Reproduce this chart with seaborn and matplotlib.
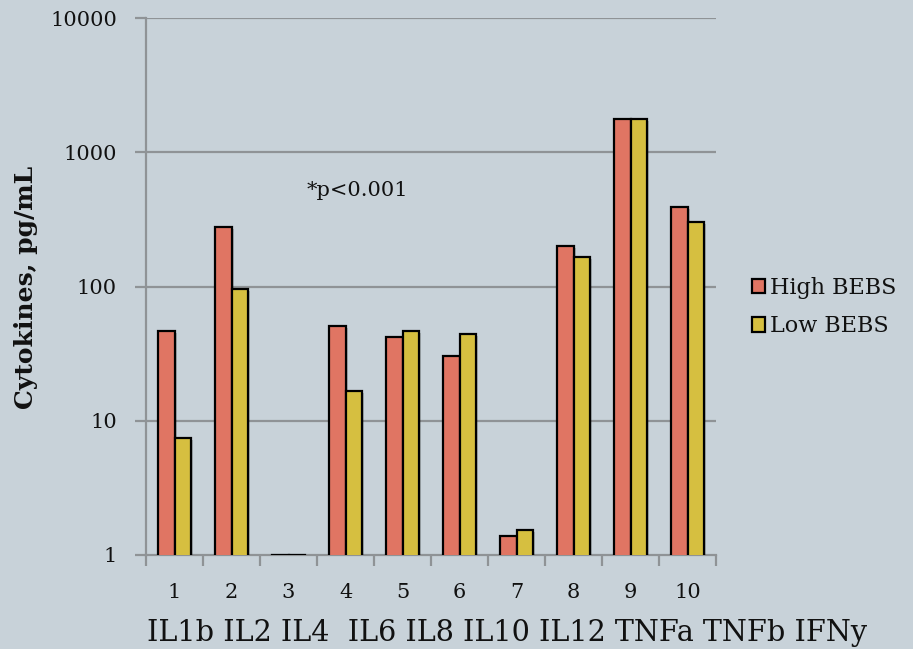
import matplotlib
matplotlib.use("Agg")
import matplotlib.pyplot as plt
import matplotlib.patheffects as pe
from matplotlib.patches import Patch
from matplotlib.ticker import FixedLocator, NullFormatter
import numpy as np
import pandas as pd
import seaborn as sns

# Cytokine panel, mean concentrations (pg/mL)
categories = ["1", "2", "3", "4", "5", "6", "7", "8", "9", "10"]
cytokine_names = ["IL1b", "IL2", "IL4", "IL6", "IL8", "IL10", "IL12", "TNFa", "TNFb", "IFNy"]
high_bebs = [46.5, 277, 1.0, 51, 42, 30.5, 1.38, 200, 1770, 390]
low_bebs = [7.5, 95.5, 1.0, 16.7, 46.5, 44.3, 1.53, 166, 1770, 303]
groups = ["High BEBS", "Low BEBS"]
y_ticks = [1, 10, 100, 1000, 10000]

BG = "#C8D2D9"
RED = "#E07563"
YELLOW = "#D6BF40"
GRID = "#8F9396"
INK = "#111111"

df = pd.DataFrame({
    "sample": categories * 2,
    "value": high_bebs + low_bebs,
    "group": [groups[0]] * len(categories) + [groups[1]] * len(categories),
})

sns.set_theme(style="white")
plt.rcParams["font.family"] = ["DejaVu Serif"]
plt.rcParams["text.color"] = INK
plt.rcParams["axes.labelcolor"] = INK
plt.rcParams["xtick.labelcolor"] = INK
plt.rcParams["ytick.labelcolor"] = INK

fig = plt.figure(figsize=(9.13, 6.49), dpi=100, facecolor=BG)
ax = fig.add_axes([146 / 913, 1 - 555 / 649, (716 - 146) / 913, (555 - 18) / 649])
ax.set_facecolor(BG)

sns.barplot(data=df, x="sample", y="value", hue="group", order=categories,
            hue_order=groups, palette=[RED, YELLOW], saturation=1, width=0.58,
            edgecolor="black", linewidth=1.6, errorbar=None,
            legend=False, ax=ax, zorder=3)
ax.set_yscale("log")

for bar in ax.patches:
    bar.set_path_effects([pe.SimplePatchShadow(offset=(1.5, -1.5), alpha=0.18,
                                               shadow_rgbFace="black"),
                          pe.Normal()])

ax.set_ylim(1, 10000)
ax.set_xlim(-0.5, len(categories) - 0.5)

# horizontal gridlines at each decade
ax.yaxis.set_major_locator(FixedLocator(y_ticks))
ax.yaxis.set_minor_locator(FixedLocator([]))
ax.set_yticklabels([str(t) for t in y_ticks])
for t in y_ticks[1:]:
    ax.axhline(t, color=GRID, lw=1.6, zorder=1)

for side in ["top", "right"]:
    ax.spines[side].set_visible(False)
for side in ["left", "bottom"]:
    ax.spines[side].set_color(GRID)
    ax.spines[side].set_linewidth(1.6)

ax.tick_params(axis="y", which="major", length=8, width=1.6, color=GRID,
               labelsize=15, pad=13, left=True, labelcolor=INK)
ax.set_xticks(range(len(categories)))
ax.set_xticklabels(categories)
ax.set_xticks(np.arange(-0.5, len(categories), 1.0), minor=True)
ax.xaxis.set_minor_formatter(NullFormatter())
ax.tick_params(axis="x", which="major", length=0, labelsize=15, pad=20, labelcolor=INK)
ax.tick_params(axis="x", which="minor", length=8, width=1.6, color=GRID, bottom=True)

ax.set_xlabel("")
ax.set_ylabel("Cytokines, pg/mL", fontsize=18, fontweight="bold", color=INK)
ax.yaxis.set_label_coords((38 - 146) / 570, (555 - 287) / 537)

ax.text(357 / 913, 1 - 190 / 649, "*p<0.001", transform=fig.transFigure,
        ha="center", va="center", fontsize=15, color=INK)

# cytokine names row beneath the sample numbers
fig.text(147 / 913, 1 - 633 / 649,
         " ".join(cytokine_names[:3]) + "  " + " ".join(cytokine_names[3:]),
         ha="left", va="center", fontsize=20.6, color=INK)

handles = [Patch(facecolor=RED, edgecolor="black", lw=1.6),
           Patch(facecolor=YELLOW, edgecolor="black", lw=1.6)]
fig.legend(handles, groups, loc="center left", bbox_to_anchor=(752 / 913, 1 - 307 / 649),
           frameon=False, fontsize=16, handlelength=0.6, handleheight=0.6,
           handletextpad=0.2, labelspacing=0.75, borderpad=0, borderaxespad=0,
           labelcolor=INK)

fig.savefig("out.png", dpi=100, facecolor=BG)
